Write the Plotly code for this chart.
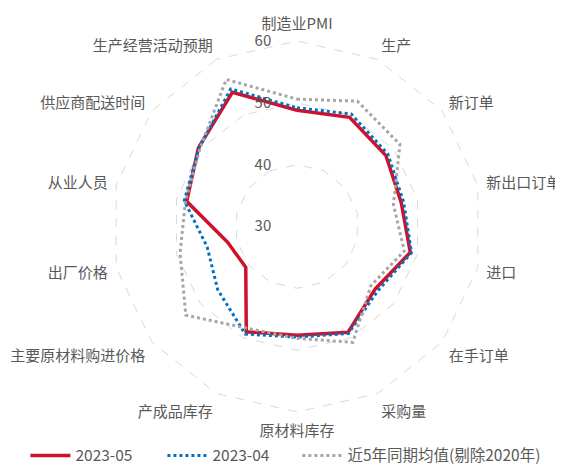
import plotly.graph_objects as go

categories = ["制造业PMI", "生产", "新订单", "新出口订单", "进口", "在手订单", "采购量",
              "原材料库存", "产成品库存", "主要原材料购进价格", "出厂价格", "从业人员",
              "供应商配送时间", "生产经营活动预期"]
may_2023 = [48.8, 49.6, 48.4, 47.3, 48.8, 46.2, 49.0, 47.6, 48.9, 40.6, 41.5, 48.3, 50.4, 54.1]
apr_2023 = [49.2, 50.2, 48.8, 47.7, 49.0, 46.7, 49.2, 47.9, 49.3, 46.4, 44.9, 48.7, 50.3, 54.7]
avg_5yr = [50.6, 52.5, 51.3, 46.0, 47.8, 45.3, 50.8, 48.1, 48.3, 53.0, 49.4, 48.5, 50.1, 56.4]
series_names = ["2023-05", "2023-04", "近5年同期均值(剔除2020年)"]
radial_ticks = [30, 40, 50, 60]

FONT = "Noto Sans CJK SC, Noto Sans, sans-serif"
TXT = "#595959"

def closed(vals):
    return vals + vals[:1]

fig = go.Figure()
styles = [
    dict(color="#D0112B", width=3.5, dash="solid"),
    dict(color="#0070C0", width=3, dash="dot"),
    dict(color="#A6A6A6", width=3, dash="dot"),
]
legends = ["legend", "legend", "legend2"]
for name, vals, st, lg in zip(series_names, [may_2023, apr_2023, avg_5yr], styles, legends):
    fig.add_trace(go.Scatterpolar(
        r=closed(vals), theta=closed(categories), mode="lines", name=name,
        line=st, hoverinfo="skip", legend=lg))

legend_font = dict(size=15.5, color=TXT, family=FONT)
fig.update_layout(
    width=555, height=458,
    margin=dict(l=0, r=0, t=0, b=0, autoexpand=False),
    paper_bgcolor="white",
    font=dict(family=FONT, size=15, color=TXT),
    polar=dict(
        domain=dict(x=[0.1843, 0.8571], y=[0.1153, 0.9306]),
        bgcolor="white",
        gridshape="linear",
        radialaxis=dict(
            range=[30, 60.2], tickvals=radial_ticks, angle=90, tickangle=90,
            side="counterclockwise", showline=False, ticks="outside", ticklen=20,
            tickcolor="rgba(0,0,0,0)",
            gridcolor="#D9D9D9", griddash="dash", gridwidth=1,
            tickfont=dict(size=15, color=TXT, family=FONT)),
        angularaxis=dict(
            direction="clockwise", rotation=90, showgrid=False,
            showline=False, ticks="outside", ticklen=4,
            tickcolor="rgba(0,0,0,0)",
            tickfont=dict(size=15, color=TXT, family=FONT)),
    ),
    legend=dict(orientation="h", x=0.0314, xanchor="left", y=-0.015, yanchor="bottom",
                font=legend_font, itemwidth=40, entrywidth=82),
    legend2=dict(orientation="h", x=0.5214, xanchor="left", y=-0.015, yanchor="bottom",
                 font=legend_font, itemwidth=40),
)

fig.write_html("out.html")
